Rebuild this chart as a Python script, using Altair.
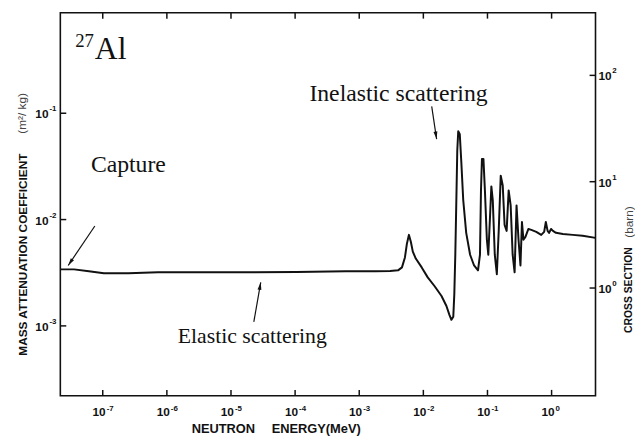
import math
import altair as alt
import pandas as pd

# ---- curve (neutron energy in MeV, mass attenuation coefficient in m^2/kg) ----
energy_mev = [2.18e-8, 3.57e-8, 6.08e-8, 1.04e-7, 2.51e-7, 7.28e-7, 3.01e-6, 1.77e-5, 1.04e-4,
              6.15e-4, 1.78e-3, 3.03e-3, 4.03e-3, 4.64e-3, 5.16e-3, 5.54e-3, 5.95e-3, 6.38e-3,
              6.85e-3, 7.62e-3, 9.43e-3, 1.17e-2, 1.50e-2, 1.92e-2, 2.29e-2, 2.55e-2, 2.74e-2,
              2.93e-2, 3.04e-2, 3.15e-2, 3.27e-2, 3.38e-2, 3.50e-2, 3.70e-2, 3.90e-2, 4.19e-2,
              4.66e-2, 5.36e-2, 6.18e-2, 7.12e-2, 7.64e-2, 7.92e-2, 8.20e-2, 8.65e-2, 9.12e-2,
              9.79e-2, 0.103, 0.109, 0.115, 0.121, 0.130, 0.140, 0.150, 0.161, 0.173, 0.185,
              0.199, 0.214, 0.230, 0.247, 0.265, 0.284, 0.305, 0.327, 0.345, 0.364, 0.391,
              0.435, 0.483, 0.577, 0.689, 0.766, 0.813, 0.867, 0.914, 0.981, 1.05, 1.17, 1.50,
              2.14, 3.05, 4.84]
mass_atten = [3.40e-3, 3.40e-3, 3.26e-3, 3.12e-3, 3.12e-3, 3.19e-3, 3.19e-3, 3.19e-3, 3.22e-3,
              3.26e-3, 3.26e-3, 3.29e-3, 3.33e-3, 3.55e-3, 4.40e-3, 5.93e-3, 7.18e-3, 6.18e-3,
              4.99e-3, 4.30e-3, 3.55e-3, 2.86e-3, 2.36e-3, 1.91e-3, 1.54e-3, 1.27e-3, 1.14e-3,
              1.22e-3, 1.99e-3, 4.67e-3, 1.52e-2, 4.42e-2, 6.77e-2, 6.35e-2, 3.57e-2, 1.52e-2,
              7.50e-3, 4.67e-3, 3.70e-3, 3.33e-3, 4.67e-3, 1.88e-2, 3.72e-2, 3.72e-2, 1.88e-2,
              6.46e-3, 4.67e-3, 9.89e-3, 2.05e-2, 1.52e-2, 4.67e-3, 3.06e-3, 8.00e-3, 2.59e-2,
              2.09e-2, 8.89e-3, 7.82e-3, 1.88e-2, 1.36e-2, 4.67e-3, 3.19e-3, 1.36e-2, 6.46e-3,
              3.70e-3, 9.48e-3, 6.46e-3, 6.88e-3, 8.16e-3, 8.00e-3, 7.66e-3, 7.18e-3, 7.66e-3,
              9.48e-3, 7.82e-3, 7.50e-3, 8.16e-3, 7.82e-3, 7.50e-3, 7.33e-3, 7.18e-3, 7.03e-3,
              6.73e-3]

# ---- axes ----
x_ticks = [1e-7, 1e-6, 1e-5, 1e-4, 1e-3, 1e-2, 1e-1, 1e0]   # bottom and top
left_ticks = [1e-1, 1e-2, 1e-3]
right_ticks = [1e2, 1e1, 1e0]          # cross section, barn

X_DOMAIN = [2.18e-8, 4.84]
Y_DOMAIN = [2.20e-4, 0.882]
Y2_DOMAIN = [0.0969, 388.5]

# ---- annotations (placed in data coordinates) ----
note_text = ["27", "Al", "Capture", "Inelastic scattering", "Elastic scattering"]
note_e = [3.71e-8, 7.53e-8, 6.53e-8, 1.67e-4, 1.48e-6]
note_y = [0.417, 0.323, 2.78e-2, 0.131, 6.84e-4]
note_size = [19, 32, 24, 24, 22]

arrow_e0 = [7.53e-8, 2.27e-5, 1.35e-2]
arrow_y0 = [8.70e-3, 1.09e-3, 0.116]
arrow_e1 = [2.89e-8, 2.91e-5, 1.61e-2]
arrow_y1 = [3.70e-3, 2.57e-3, 5.71e-2]
arrow_angle = [214, 10, 171]

W, H = 542, 388
SANS = "Liberation Sans"
SERIF = "Liberation Serif"
INK = "#111111"
GREY = "#444444"

XS = alt.Scale(type="log", domain=X_DOMAIN, nice=False)
YS = alt.Scale(type="log", domain=Y_DOMAIN, nice=False)
Y2S = alt.Scale(type="log", domain=Y2_DOMAIN, nice=False)


def exps(vals):
    return [str(int(round(math.log10(v)))) for v in vals]


curve_df = pd.DataFrame({"e": energy_mev, "mu": mass_atten, "i": range(len(energy_mev))})
curve = alt.Chart(curve_df).mark_line(color=INK, strokeWidth=2, strokeJoin="round").encode(
    x=alt.X("e:Q", scale=XS, axis=None),
    y=alt.Y("mu:Q", scale=YS, axis=None),
    order="i:Q",
)

xt_df = pd.DataFrame({"e": x_ticks, "p": exps(x_ticks)})
bottom_ticks = alt.Chart(xt_df).mark_rule(color=INK, strokeWidth=1.5).encode(
    x=alt.X("e:Q", scale=XS, axis=None), y=alt.value(H - 6), y2=alt.value(H))
top_tick_marks = alt.Chart(xt_df).mark_rule(color=INK, strokeWidth=1.5).encode(
    x=alt.X("e:Q", scale=XS, axis=None), y=alt.value(0), y2=alt.value(6))
bottom_ten = alt.Chart(xt_df).mark_text(
    font=SANS, fontSize=12, fontWeight="bold", color=INK, align="right", baseline="alphabetic",
    dx=3).encode(x=alt.X("e:Q", scale=XS, axis=None), y=alt.value(H + 20), text=alt.value("10"))
bottom_exp = alt.Chart(xt_df).mark_text(
    font=SANS, fontSize=8, fontWeight="bold", color=INK, align="left", baseline="alphabetic",
    dx=4).encode(x=alt.X("e:Q", scale=XS, axis=None), y=alt.value(H + 15), text="p:N")

lt_df = pd.DataFrame({"v": left_ticks, "p": exps(left_ticks)})
left_tick_marks = alt.Chart(lt_df).mark_rule(color=INK, strokeWidth=1.5).encode(
    y=alt.Y("v:Q", scale=YS, axis=None), x=alt.value(0), x2=alt.value(6))
left_ten = alt.Chart(lt_df).mark_text(
    font=SANS, fontSize=12, fontWeight="bold", color=INK, align="right", baseline="middle",
    dy=1).encode(y=alt.Y("v:Q", scale=YS, axis=None), x=alt.value(-12), text=alt.value("10"))
left_exp = alt.Chart(lt_df).mark_text(
    font=SANS, fontSize=8, fontWeight="bold", color=INK, align="left", baseline="middle",
    dy=-4).encode(y=alt.Y("v:Q", scale=YS, axis=None), x=alt.value(-11), text="p:N")

notes_df = pd.DataFrame({"e": note_e, "y": note_y, "t": note_text, "fs": note_size})
notes = alt.Chart(notes_df).mark_text(align="left", baseline="alphabetic", font=SERIF, color=INK).encode(
    x=alt.X("e:Q", scale=XS, axis=None), y=alt.Y("y:Q", scale=YS, axis=None),
    text="t:N", size=alt.Size("fs:Q", scale=None))

arrows_df = pd.DataFrame({"e0": arrow_e0, "y0": arrow_y0, "e1": arrow_e1, "y1": arrow_y1,
                          "a": arrow_angle})
arrow_lines = alt.Chart(arrows_df).mark_rule(color=INK, strokeWidth=1.2).encode(
    x=alt.X("e0:Q", scale=XS, axis=None), y=alt.Y("y0:Q", scale=YS, axis=None),
    x2="e1:Q", y2="y1:Q")
arrow_heads = alt.Chart(arrows_df).mark_point(
    shape="M0,0L-0.32,1.25L0.32,1.25Z", filled=True, color=INK, opacity=1, size=150).encode(
    x=alt.X("e1:Q", scale=XS, axis=None), y=alt.Y("y1:Q", scale=YS, axis=None),
    angle=alt.Angle("a:Q", scale=None))


def label(txt, x, y, size, weight="bold", angle=0, align="center", color=INK):
    return alt.Chart(pd.DataFrame({"t": [txt]})).mark_text(
        font=SANS, fontSize=size, fontWeight=weight, angle=angle, align=align,
        baseline="middle", color=color).encode(text="t:N", x=alt.value(x), y=alt.value(y))


titles = [
    label("MASS ATTENUATION COEFFICIENT", -38, 245, 12, angle=270),
    label("(m\u00b2/ kg)", -39, 102, 12, weight="normal", angle=270, color=GREY),
    label("CROSS SECTION", 576, 281, 10.5, angle=270),
    label("(barn)", 576, 212, 12, weight="normal", angle=270, color=GREY),
    label("NEUTRON", 133, 422, 13, align="left"),
    label("ENERGY(MeV)", 214, 422, 13, align="left"),
]

left_group = alt.layer(curve, bottom_ticks, top_tick_marks, bottom_ten, bottom_exp,
                       left_tick_marks, left_ten, left_exp, notes, arrow_lines, arrow_heads,
                       *titles)

rt_df = pd.DataFrame({"v": right_ticks, "p": exps(right_ticks)})
right_tick_marks = alt.Chart(rt_df).mark_rule(color=INK, strokeWidth=1.5).encode(
    y=alt.Y("v:Q", scale=Y2S, axis=None), x=alt.value(W - 6), x2=alt.value(W))
right_ten = alt.Chart(rt_df).mark_text(
    font=SANS, fontSize=12, fontWeight="bold", color=INK, align="left", baseline="middle",
    dy=1).encode(y=alt.Y("v:Q", scale=Y2S, axis=None), x=alt.value(W + 3), text=alt.value("10"))
right_exp = alt.Chart(rt_df).mark_text(
    font=SANS, fontSize=8, fontWeight="bold", color=INK, align="left", baseline="middle",
    dy=-4).encode(y=alt.Y("v:Q", scale=Y2S, axis=None), x=alt.value(W + 17), text="p:N")
right_group = alt.layer(right_tick_marks, right_ten, right_exp)

chart = alt.layer(left_group, right_group).resolve_scale(y="independent").properties(
    width=W, height=H,
    padding={"left": 53, "top": 2, "right": 40, "bottom": 43},
    autosize=alt.AutoSizeParams(type="none"),
    background="white",
).configure_view(stroke=INK, strokeWidth=1.6)

chart.save("out.html", embed_options={"renderer": "svg", "actions": False})
